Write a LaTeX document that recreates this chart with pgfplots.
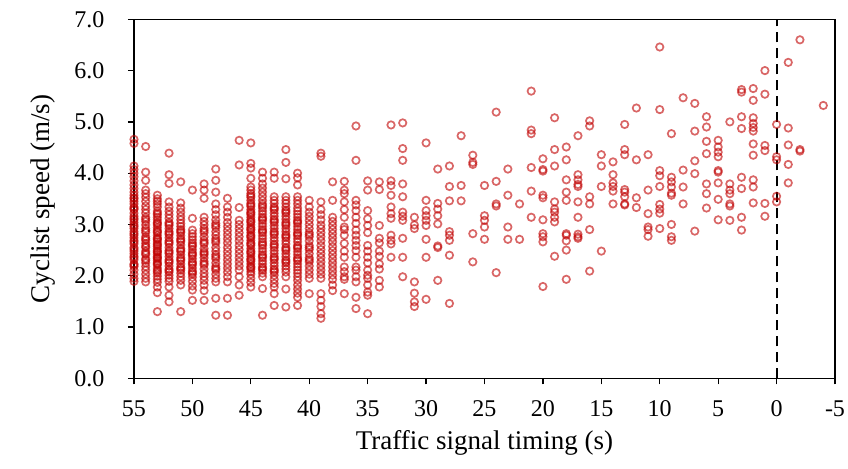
\documentclass[border=0pt]{standalone}
\usepackage{fontspec}
\setmainfont{Liberation Serif}
\usepackage{pgfplots}
\pgfplotsset{compat=1.18}
\definecolor{ptred}{RGB}{192,0,0}
\begin{document}
\begin{tikzpicture}
\begin{axis}[
  name=ax, at={(0,0)}, anchor=south west,
  scale only axis, width=701pt, height=359pt,
  xmin=-5, xmax=55, ymin=0, ymax=7,
  x dir=reverse,
  xtick={-5,0,5,10,15,20,25,30,35,40,45,50,55},
  ytick={0,1,2,3,4,5,6,7},
  xtick pos=bottom, ytick pos=left, tick align=outside,
  major tick length=6pt,
  axis line style={line width=1.3pt},
  every tick/.style={black, line width=1.3pt},
  /pgf/number format/assume math mode=true,
  tick label style={font=\fontsize{24}{24}\selectfont},
  yticklabel style={xshift=-20pt, /pgf/number format/.cd, fixed, fixed zerofill, precision=1},
  xticklabel style={yshift=-13pt},
  xlabel={Traffic signal timing (s)},
  ylabel={Cyclist speed (m/s)},
  label style={font=\fontsize{27}{27}\selectfont},
  xlabel style={at={(axis description cs:0.5,-0.18)}, anchor=center},
  ylabel style={at={(axis description cs:-0.13,0.5)}, anchor=center, rotate=0},
  clip=false,
]
\addplot[only marks, mark=o, mark size=3.7pt, mark options={draw=ptred, draw opacity=0.6, line width=1.7pt}] coordinates {
(55,4.66) (55,4.58) (55,4.14) (55,4.07) (55,4.00) (55,3.93) (55,3.85) (55,3.77) (55,3.70) (55,3.63) (55,3.57) (55,3.50) (55,3.45) (55,3.40) (55,3.34) (55,3.29) (55,3.22) (55,3.16) (55,3.09) (55,3.04) (55,2.99) (55,2.92) (55,2.86) (55,2.79) (55,2.74) (55,2.69) (55,2.62) (55,2.55) (55,2.48) (55,2.43) (55,2.38) (55,2.31) (55,2.23) (55,2.18) (55,2.11) (55,2.03) (55,1.95) (55,1.89)
(55,3.52) (55,3.31) (55,3.12) (55,2.96) (55,2.82) (55,2.66) (55,2.52) (55,2.35) (55,2.21)
(54,4.52) (54,4.02) (54,3.86) (54,3.67) (54,3.60) (54,3.53) (54,3.45) (54,3.36) (54,3.29) (54,3.22) (54,3.14) (54,3.06) (54,2.99) (54,2.92) (54,2.84) (54,2.76) (54,2.69) (54,2.63) (54,2.55) (54,2.48) (54,2.41) (54,2.33) (54,2.25) (54,2.18) (54,2.11) (54,2.03) (54,1.95) (54,1.88)
(54,3.10) (54,2.88) (54,2.72) (54,2.58) (54,2.44) (54,2.30)
(53,3.57) (53,3.50) (53,3.45) (53,3.40) (53,3.34) (53,3.26) (53,3.19) (53,3.14) (53,3.09) (53,3.04) (53,2.99) (53,2.94) (53,2.89) (53,2.84) (53,2.79) (53,2.74) (53,2.70) (53,2.66) (53,2.62) (53,2.57) (53,2.53) (53,2.49) (53,2.45) (53,2.41) (53,2.37) (53,2.33) (53,2.29) (53,2.25) (53,2.21) (53,2.15) (53,2.11) (53,2.05) (53,1.99) (53,1.93) (53,1.87) (53,1.78) (53,1.67) (53,1.30)
(53,3.22) (53,3.02) (53,2.86) (53,2.72) (53,2.60) (53,2.47) (53,2.35) (53,2.23) (53,2.08)
(52,4.39) (52,3.97) (52,3.80) (52,3.44) (52,3.34) (52,3.26) (52,3.19) (52,3.12) (52,3.04) (52,2.98) (52,2.92) (52,2.86) (52,2.80) (52,2.74) (52,2.68) (52,2.62) (52,2.55) (52,2.49) (52,2.43) (52,2.37) (52,2.31) (52,2.25) (52,2.19) (52,2.13) (52,2.07) (52,2.01) (52,1.95) (52,1.89) (52,1.78) (52,1.62) (52,1.49)
(52,3.01) (52,2.83) (52,2.65) (52,2.46) (52,2.28) (52,2.10)
(51,3.83) (51,3.42) (51,3.32) (51,3.24) (51,3.16) (51,3.09) (51,3.02) (51,2.96) (51,2.90) (51,2.84) (51,2.78) (51,2.72) (51,2.66) (51,2.60) (51,2.53) (51,2.47) (51,2.41) (51,2.35) (51,2.29) (51,2.23) (51,2.17) (51,2.11) (51,2.05) (51,1.98) (51,1.91) (51,1.82) (51,1.30)
(51,2.87) (51,2.69) (51,2.50) (51,2.32) (51,2.14)
(50,3.67) (50,3.12) (50,2.89) (50,2.82) (50,2.76) (50,2.70) (50,2.64) (50,2.57) (50,2.51) (50,2.45) (50,2.39) (50,2.33) (50,2.27) (50,2.21) (50,2.15) (50,2.09) (50,2.03) (50,1.97) (50,1.89) (50,1.80) (50,1.72) (50,1.52)
(50,2.60) (50,2.42) (50,2.24) (50,2.06)
(49,3.79) (49,3.67) (49,3.51) (49,3.14) (49,3.06) (49,2.99) (49,2.92) (49,2.84) (49,2.76) (49,2.69) (49,2.62) (49,2.53) (49,2.47) (49,2.41) (49,2.35) (49,2.28) (49,2.21) (49,2.13) (49,2.05) (49,1.98) (49,1.91) (49,1.82) (49,1.71) (49,1.52)
(49,2.88) (49,2.65) (49,2.44) (49,2.24)
(48,4.08) (48,3.86) (48,3.63) (48,3.40) (48,3.29) (48,3.19) (48,3.09) (48,3.02) (48,2.94) (48,2.86) (48,2.79) (48,2.72) (48,2.64) (48,2.55) (48,2.48) (48,2.41) (48,2.33) (48,2.25) (48,2.18) (48,2.11) (48,2.03) (48,1.95) (48,1.88) (48,1.56) (48,1.23)
(48,2.98) (48,2.68) (48,2.37) (48,2.14)
(47,3.51) (47,3.34) (47,3.24) (47,3.14) (47,3.04) (47,2.96) (47,2.88) (47,2.80) (47,2.72) (47,2.64) (47,2.55) (47,2.47) (47,2.39) (47,2.31) (47,2.23) (47,2.15) (47,2.07) (47,1.98) (47,1.88) (47,1.56) (47,1.23)
(46,4.64) (46,4.16) (46,3.33) (46,3.08) (46,3.00) (46,2.92) (46,2.84) (46,2.76) (46,2.68) (46,2.59) (46,2.51) (46,2.43) (46,2.35) (46,2.27) (46,2.19) (46,2.11) (46,1.98) (46,1.82) (46,1.62)
(45,4.59) (45,4.19) (45,4.10) (45,3.90) (45,3.73) (45,3.67) (45,3.60) (45,3.53) (45,3.47) (45,3.41) (45,3.35) (45,3.29) (45,3.24) (45,3.19) (45,3.14) (45,3.09) (45,3.04) (45,2.99) (45,2.94) (45,2.89) (45,2.84) (45,2.79) (45,2.74) (45,2.69) (45,2.64) (45,2.59) (45,2.53) (45,2.48) (45,2.43) (45,2.38) (45,2.33) (45,2.28) (45,2.23) (45,2.18) (45,2.13) (45,2.08) (45,2.03) (45,1.95) (45,1.87) (45,1.78)
(45,3.56) (45,3.38) (45,3.22) (45,3.06) (45,2.91) (45,2.77) (45,2.62) (45,2.46) (45,2.31) (45,2.16)
(44,4.02) (44,3.90) (44,3.79) (44,3.71) (44,3.63) (44,3.55) (44,3.47) (44,3.40) (44,3.32) (44,3.26) (44,3.20) (44,3.14) (44,3.08) (44,3.02) (44,2.96) (44,2.90) (44,2.84) (44,2.78) (44,2.72) (44,2.66) (44,2.59) (44,2.53) (44,2.47) (44,2.41) (44,2.35) (44,2.29) (44,2.23) (44,2.17) (44,2.11) (44,2.05) (44,1.98) (44,1.75) (44,1.23)
(44,3.36) (44,3.11) (44,2.87) (44,2.62) (44,2.38) (44,2.14)
(43,4.02) (43,3.90) (43,3.54) (43,3.47) (43,3.41) (43,3.34) (43,3.28) (43,3.22) (43,3.16) (43,3.10) (43,3.04) (43,2.98) (43,2.92) (43,2.86) (43,2.80) (43,2.74) (43,2.68) (43,2.62) (43,2.55) (43,2.49) (43,2.43) (43,2.37) (43,2.31) (43,2.25) (43,2.19) (43,2.13) (43,2.07) (43,2.01) (43,1.93) (43,1.85) (43,1.78) (43,1.65) (43,1.42)
(43,3.31) (43,3.07) (43,2.83) (43,2.59) (43,2.34) (43,2.10)
(42,4.46) (42,4.21) (42,3.89) (42,3.54) (42,3.47) (42,3.41) (42,3.34) (42,3.28) (42,3.22) (42,3.16) (42,3.10) (42,3.04) (42,2.98) (42,2.92) (42,2.86) (42,2.80) (42,2.74) (42,2.68) (42,2.62) (42,2.55) (42,2.49) (42,2.43) (42,2.37) (42,2.31) (42,2.25) (42,2.19) (42,2.13) (42,2.07) (42,1.98) (42,1.74) (42,1.39)
(42,3.25) (42,3.01) (42,2.77) (42,2.52) (42,2.28)
(41,4.00) (41,3.91) (41,3.77) (41,3.54) (41,3.47) (41,3.40) (41,3.32) (41,3.26) (41,3.20) (41,3.14) (41,3.08) (41,3.02) (41,2.96) (41,2.90) (41,2.84) (41,2.78) (41,2.72) (41,2.66) (41,2.59) (41,2.53) (41,2.47) (41,2.41) (41,2.35) (41,2.29) (41,2.23) (41,2.17) (41,2.11) (41,2.05) (41,1.98) (41,1.91) (41,1.82) (41,1.74) (41,1.66) (41,1.58) (41,1.42)
(41,3.05) (41,2.81) (41,2.56) (41,2.32)
(40,3.47) (40,3.34) (40,3.24) (40,3.16) (40,3.08) (40,3.00) (40,2.92) (40,2.84) (40,2.76) (40,2.68) (40,2.59) (40,2.51) (40,2.43) (40,2.35) (40,2.27) (40,2.19) (40,2.11) (40,2.03) (40,1.95) (40,1.65)
(40,2.80) (40,2.55) (40,2.31)
(39,4.39) (39,4.33) (39,3.44) (39,3.29) (39,3.19) (39,3.09) (39,2.99) (39,2.92) (39,2.84) (39,2.76) (39,2.68) (39,2.59) (39,2.51) (39,2.43) (39,2.35) (39,2.27) (39,2.19) (39,2.11) (39,2.03) (39,1.95) (39,1.65) (39,1.52) (39,1.40) (39,1.26) (39,1.17)
(38,3.83) (38,3.47) (38,3.14) (38,3.06) (38,2.98) (38,2.90) (38,2.82) (38,2.74) (38,2.66) (38,2.57) (38,2.49) (38,2.41) (38,2.33) (38,2.25) (38,2.17) (38,2.09) (38,2.01) (38,1.93) (38,1.82) (38,1.71)
(37,3.84) (37,3.67) (37,3.60) (37,3.44) (37,3.29) (37,3.14) (37,2.95) (37,2.90) (37,2.79) (37,2.63) (37,2.48) (37,2.36) (37,2.17) (37,2.08) (37,1.98) (37,1.93) (37,1.65)
(36,4.92) (36,4.25) (36,3.47) (36,3.38) (36,3.27) (36,3.14) (36,3.02) (36,2.89) (36,2.79) (36,2.69) (36,2.59) (36,2.49) (36,2.36) (36,2.17) (36,2.11) (36,1.98) (36,1.88) (36,1.58) (36,1.36)
(35,3.85) (35,3.67) (35,3.27) (35,3.11) (35,2.98) (35,2.84) (35,2.59) (35,2.48) (35,2.36) (35,2.25) (35,2.11) (35,2.01) (35,1.95) (35,1.82) (35,1.68) (35,1.62) (35,1.26)
(34,3.83) (34,3.68) (34,2.98) (34,2.73) (34,2.64) (34,2.48) (34,2.38) (34,2.23) (34,2.13) (34,1.91) (34,1.78)
(33,4.94) (33,3.85) (33,3.76) (33,3.57) (33,3.34) (33,3.21) (33,3.12) (33,2.79) (33,2.69) (33,2.62) (33,2.36)
(32,4.98) (32,4.48) (32,4.25) (32,3.79) (32,3.54) (32,3.24) (32,3.16) (32,3.08) (32,2.73) (32,2.36) (32,1.98)
(31,3.14) (31,2.99) (31,2.92) (31,1.88) (31,1.66) (31,1.49) (31,1.40)
(30,4.59) (30,3.47) (30,3.27) (30,3.17) (30,3.08) (30,2.98) (30,2.71) (30,2.36) (30,1.54)
(29,4.08) (29,3.41) (29,3.30) (29,3.17) (29,3.01) (29,2.58) (29,2.55) (29,1.91)
(28,4.14) (28,3.74) (28,3.46) (28,2.86) (28,2.79) (28,2.69) (28,2.40) (28,1.46)
(27,4.73) (27,3.76) (27,3.46)
(26,4.35) (26,4.21) (26,4.17) (26,2.82) (26,2.27)
(25,3.76) (25,3.17) (25,3.08) (25,2.95) (25,2.71)
(24,5.19) (24,3.84) (24,3.40) (24,3.36) (24,2.06)
(23,4.08) (23,3.57) (23,2.95) (23,2.71)
(22,3.40) (22,2.71)
(21,5.60) (21,4.84) (21,4.77) (21,4.11) (21,3.65) (21,3.14)
(20,4.28) (20,4.07) (20,4.04) (20,3.57) (20,3.52) (20,3.09) (20,2.82) (20,2.76) (20,2.66) (20,1.79)
(19,5.08) (19,4.46) (19,4.14) (19,3.44) (19,3.30) (19,3.24) (19,3.14) (19,3.05) (19,2.38)
(18,4.51) (18,4.26) (18,3.87) (18,3.63) (18,3.47) (18,2.82) (18,2.79) (18,2.68) (18,2.50) (18,1.93)
(17,4.73) (17,3.97) (17,3.87) (17,3.78) (17,3.74) (17,3.44) (17,3.14) (17,2.81) (17,2.76) (17,2.73)
(16,5.02) (16,4.92) (16,3.54) (16,3.40) (16,2.90) (16,2.09)
(15,4.36) (15,4.14) (15,3.74) (15,2.48)
(14,4.22) (14,3.97) (14,3.81) (14,3.74) (14,3.65) (14,3.40)
(13,4.95) (13,4.46) (13,4.36) (13,3.68) (13,3.63) (13,3.54) (13,3.40) (13,3.38)
(12,5.27) (12,4.26) (12,3.52) (12,3.33)
(11,4.36) (11,3.67) (11,3.21) (11,2.95) (11,2.90) (11,2.77)
(10,6.46) (10,5.24) (10,4.05) (10,3.95) (10,3.74) (10,3.39) (10,3.30) (10,3.22) (10,2.92)
(9,4.77) (9,3.92) (9,3.83) (9,3.73) (9,3.61) (9,3.57) (9,3.00) (9,2.76) (9,2.69)
(8,5.47) (8,4.06) (8,3.73) (8,3.40)
(7,5.36) (7,4.82) (7,4.24) (7,3.99) (7,2.87)
(6,5.10) (6,4.90) (6,4.62) (6,4.38) (6,3.79) (6,3.60) (6,3.32)
(5,4.64) (5,4.51) (5,4.41) (5,4.32) (5,4.05) (5,4.02) (5,3.81) (5,3.49) (5,3.09)
(4,5.00) (4,3.79) (4,3.67) (4,3.60) (4,3.40) (4,3.36) (4,3.08)
(3,5.63) (3,5.58) (3,5.10) (3,4.87) (3,3.92) (3,3.70) (3,3.14) (3,2.89)
(2,5.65) (2,5.42) (2,5.08) (2,4.97) (2,4.89) (2,4.82) (2,4.57) (2,4.35) (2,3.87) (2,3.73) (2,3.42)
(1,6.00) (1,5.54) (1,4.54) (1,4.44) (1,3.41) (1,3.16)
(0,4.95) (0,4.32) (0,4.26) (0,3.55) (0,3.44)
(-1,6.16) (-1,4.88) (-1,4.55) (-1,4.17) (-1,3.81)
(-2,6.60) (-2,4.46) (-2,4.43)
(-4,5.32)
};
\addplot[black, line width=2pt, dash pattern=on 10pt off 6pt] coordinates {(0,0) (0,7)};
\end{axis}
\pgfresetboundingbox
\path[use as bounding box] ([shift={(-134pt,-89.7pt)}]ax.south west) rectangle ([shift={(13pt,19.3pt)}]ax.north east);
\end{tikzpicture}
\end{document}
